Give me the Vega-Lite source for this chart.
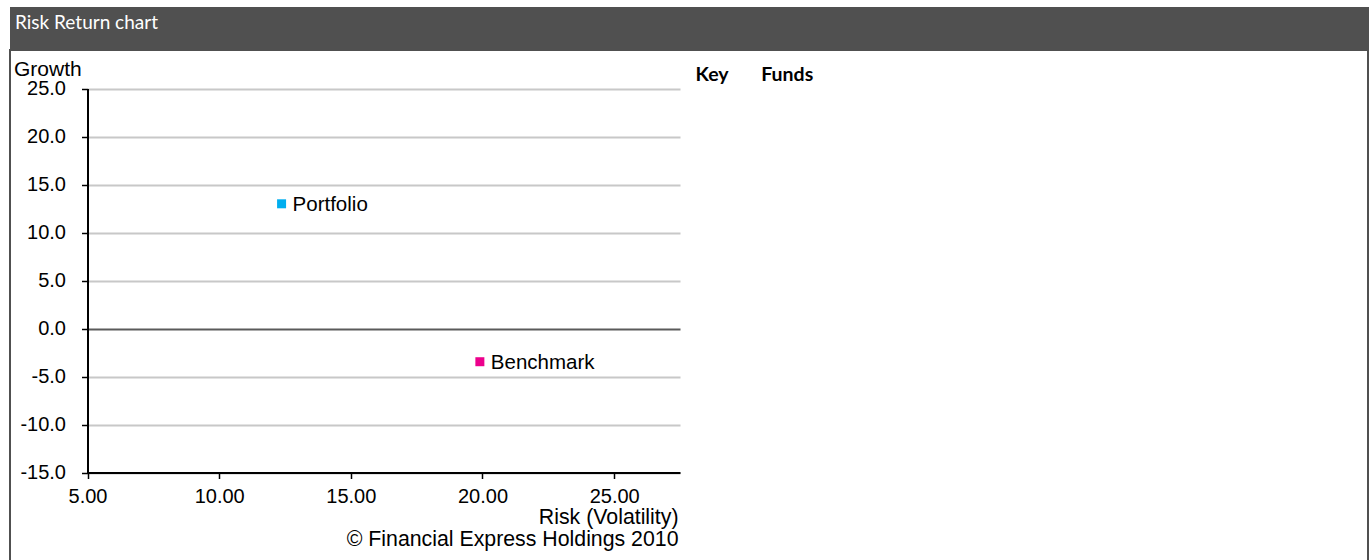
{
  "$schema": "https://vega.github.io/schema/vega-lite/v6.json",
  "padding": {"left": 9, "top": 7, "right": 0, "bottom": -10},
  "background": "white",
  "spacing": 0,
  "config": {"view": {"stroke": null}},
  "vconcat": [
    {
      "width": 1359,
      "height": 42,
      "view": {"fill": "#505050", "stroke": null},
      "title": {"text": "Risk Return chart", "anchor": "start", "frame": "group", "orient": "top", "offset": -41, "baseline": "alphabetic", "dx": 5, "font": "Lato", "fontSize": 19, "fontWeight": "normal", "color": "white"},
      "data": {"values": [{"band": "header"}]},
      "mark": {"type": "rect", "color": "#505050"}
    },
    {
      "width": 1358,
      "height": 520,
      "view": {"fill": "white", "stroke": "#505050", "strokeWidth": 2},
      "title": {"text": "Key\u00a0\u00a0\u00a0\u00a0\u00a0\u00a0\u00a0Funds", "anchor": "start", "frame": "group", "orient": "top", "offset": -50.5, "baseline": "alphabetic", "dx": 685.5, "font": "Lato", "fontSize": 19.5, "fontWeight": "bold", "color": "black"},
      "data": {"values": [
        {"fund": "Portfolio", "risk": 12.37, "growth": 12.99},
        {"fund": "Benchmark", "risk": 19.9, "growth": -3.46}
      ]},
      "encoding": {
        "x": {
          "field": "risk", "type": "quantitative",
          "scale": {"domain": [5, 27.5], "range": [77.5, 670], "nice": false, "zero": false},
          "axis": {
            "values": [5, 10, 15, 20, 25], "format": ".2f", "offset": -97.5, "grid": false,
            "domainColor": "black", "domainWidth": 2, "tickColor": "black", "tickSize": 6, "tickWidth": 1.5,
            "labelFont": "Liberation Sans", "labelFontSize": 20, "labelColor": "black", "labelPadding": 8, "labelFlush": false,
            "title": ["Risk (Volatility)", "© Financial Express Holdings 2010"],
            "titleFont": "Liberation Sans", "titleFontSize": 21.3, "titleFontWeight": "normal", "titleColor": "black",
            "titleAnchor": "end", "titleAlign": "right", "titleBaseline": "alphabetic", "titleX": 668, "titleY": 50.5, "titleLineHeight": 22
          }
        },
        "y": {
          "field": "growth", "type": "quantitative",
          "scale": {"domain": [-15, 25], "range": [422.5, 38.5], "nice": false, "zero": false},
          "axis": {
            "values": [-15, -10, -5, 0, 5, 10, 15, 20, 25], "offset": -77.5, "grid": true,
            "labelExpr": "replace(format(datum.value, '.1f'), '\u2212', '-')",
            "gridColor": {"condition": {"test": "datum.value === 0", "value": "#5a5a5a"}, "value": "#c8c8c8"},
            "gridWidth": 2,
            "domainColor": "black", "domainWidth": 2, "tickColor": "black", "tickSize": 6, "tickWidth": 1.5,
            "labelFont": "Liberation Sans", "labelFontSize": 20, "labelColor": "black", "labelPadding": 16, "labelFlush": false,
            "title": "Growth", "titleFont": "Liberation Sans", "titleFontSize": 21, "titleFontWeight": "normal", "titleColor": "black",
            "titleAngle": 0, "titleAlign": "left", "titleBaseline": "alphabetic", "titleX": -74, "titleY": 25
          }
        },
        "color": {
          "field": "fund", "type": "nominal",
          "scale": {"domain": ["Portfolio", "Benchmark"], "range": ["#00aeef", "#ec008c"]},
          "legend": null
        }
      },
      "layer": [
        {"mark": {"type": "point", "shape": "square", "filled": true, "size": 81, "opacity": 1}},
        {
          "mark": {"type": "text", "align": "left", "baseline": "middle", "dx": 11, "dy": 1, "font": "Liberation Sans", "fontSize": 20.5},
          "encoding": {"text": {"field": "fund"}, "color": {"value": "black"}}
        }
      ]
    }
  ]
}
